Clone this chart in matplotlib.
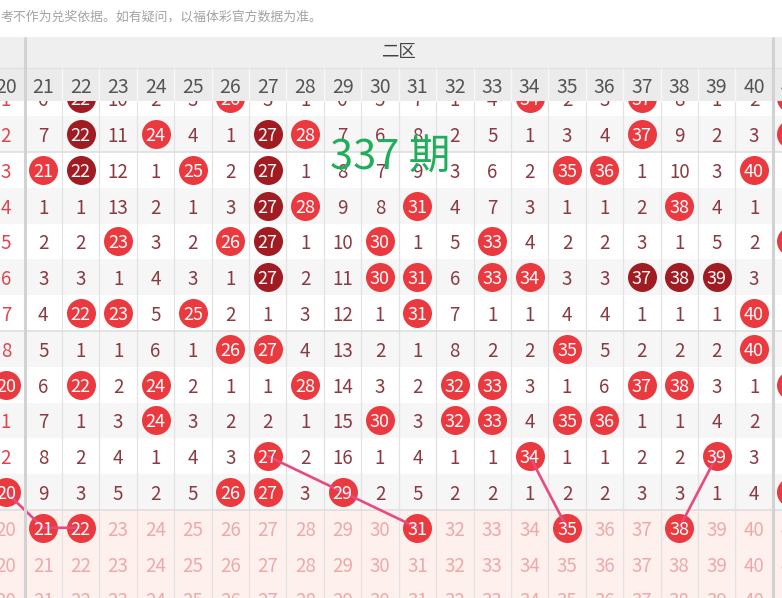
import matplotlib
matplotlib.use('Agg')
import matplotlib.pyplot as plt
from matplotlib.patches import Rectangle

plt.rcParams['font.family'] = ['Noto Sans CJK SC', 'DejaVu Sans']

# ---------------- data ----------------
numbers = list(range(20, 42))          # columns 20..41 (20 and 41 only partly visible)
zone_title = "二区"
notice = "考不作为兑奖依据。如有疑问，以福体彩官方数据为准。"
overlay = "337 期"

# one list per draw row, one token per column 20..41:
# int = omission count, 'B' = drawn (red ball), 'D' = drawn (dark ball), 'F' = faded placeholder
row00 = [1, 6, 'D', 10, 2, 3, 'B', 3, 1, 6, 5, 7, 1, 4, 'B', 2, 3, 'B', 8, 1, 2, 'B']
row01 = [2, 7, 'D', 11, 'B', 4, 1, 'D', 'B', 7, 6, 8, 2, 5, 1, 3, 4, 'B', 9, 2, 3, 'B']
row02 = [3, 'B', 'D', 12, 1, 'B', 2, 'D', 1, 8, 7, 9, 3, 6, 2, 'B', 'B', 1, 10, 3, 'B', 1]
row03 = [4, 1, 1, 13, 2, 1, 3, 'D', 'B', 9, 8, 'B', 4, 7, 3, 1, 1, 2, 'B', 4, 1, 2]
row04 = [5, 2, 2, 'B', 3, 2, 'B', 'D', 1, 10, 'B', 1, 5, 'B', 4, 2, 2, 3, 1, 5, 2, 'B']
row05 = [6, 3, 3, 1, 4, 3, 1, 'D', 2, 11, 'B', 'B', 6, 'B', 'B', 3, 3, 'D', 'D', 'D', 3, 1]
row06 = [7, 4, 'B', 'B', 5, 'B', 2, 1, 3, 12, 1, 'B', 7, 1, 1, 4, 4, 1, 1, 1, 'B', 2]
row07 = [8, 5, 1, 1, 6, 1, 'B', 'B', 4, 13, 2, 1, 8, 2, 2, 'B', 5, 2, 2, 2, 'B', 3]
row08 = ['B', 6, 'B', 2, 'B', 2, 1, 1, 'B', 14, 3, 2, 'B', 'B', 3, 1, 6, 'B', 'B', 3, 1, 'B']
row09 = [1, 7, 1, 3, 'B', 3, 2, 2, 1, 15, 'B', 3, 'B', 'B', 4, 'B', 'B', 1, 1, 4, 2, 1]
row10 = [2, 8, 2, 4, 1, 4, 3, 'B', 2, 16, 1, 4, 1, 1, 'B', 1, 1, 2, 2, 'B', 3, 2]
row11 = ['B', 9, 3, 5, 2, 5, 'B', 'B', 3, 'B', 2, 5, 2, 2, 1, 2, 2, 3, 3, 1, 4, 'B']
row12 = ['F', 'B', 'B', 'F', 'F', 'F', 'F', 'F', 'F', 'F', 'F', 'B', 'F', 'F', 'F', 'B', 'F', 'F', 'B', 'F', 'F', 'F']
row13 = ['F'] * 22
row14 = ['F'] * 22
rows = [row00, row01, row02, row03, row04, row05, row06, row07,
        row08, row09, row10, row11, row12, row13, row14]

# hand-drawn connecting lines: (number, row) pairs
link1 = [(20, 11), (21, 12), (22, 12)]
link2 = [(27, 10), (29, 11), (31, 12)]
link3 = [(34, 10), (35, 12)]
link4 = [(39, 10), (38, 12)]
links = [link1, link2, link3, link4]

# ---------------- layout ----------------
W, H = 782, 598
x0, dx = 43.3, 37.41      # pixel centre of column 21 and column pitch
y1, dy = 134.0, 35.8      # pixel centre of row 1 and row pitch


def px_x(p):
    return 21 + (p - x0) / dx


def px_y(p):
    return 1 + (p - y1) / dy


fig = plt.figure(figsize=(W / 100, H / 100), dpi=100)
ax = fig.add_axes([0, 0, 1, 1])
ax.set_xlim(px_x(0), px_x(W))
ax.set_ylim(px_y(H), px_y(0))
ax.axis('off')

xl, xr = ax.get_xlim()
ybot = ax.get_ylim()[0]
head_top, head_mid, head_bot = px_y(37), px_y(68), px_y(100.5)

C_GRAY_ROW = '#f6f6f6'
C_PINK = '#fdf0ed'
C_TXT = '#8a3a42'
C_TXT20 = '#e0454f'
C_FADE = '#eeaaab'
C_BALL = '#ea3a40'
C_DARK = '#a11c22'
C_LINK = '#e84a80'

n_fade_start = 12
# row backgrounds
for r in range(len(rows)):
    if r >= n_fade_start:
        col = C_PINK
    else:
        col = C_GRAY_ROW if r % 2 == 1 else 'white'
    ax.axhspan(r - 0.5, r + 0.5, color=col, lw=0, zorder=0)

# column separators
for n in numbers:
    ax.vlines(n + 0.5, head_bot, ybot, color='#e3e3e3', lw=0.9, zorder=1)
ax.vlines([20.5, 40.5], head_top, ybot, color='#d2d2d2', lw=2.2, zorder=7)
# group separators
ax.hlines([1.5, 6.5, 11.5], xl, xr, color='#dcdcdc', lw=1.1, zorder=1)

# balls, numbers
for r, row in enumerate(rows):
    for n, tok in zip(numbers, row):
        if tok in ('B', 'D'):
            ax.scatter([n], [r], s=(29 * 0.72) ** 2, color=C_BALL if tok == 'B' else C_DARK,
                       lw=0, zorder=3)
            ax.text(n, r, str(n), color='white', fontsize=13, ha='center', va='center_baseline',
                    zorder=4)
        elif tok == 'F':
            ax.text(n, r, str(n), color=C_FADE, fontsize=13.5, ha='center', va='center_baseline',
                    zorder=2)
        else:
            ax.text(n, r, str(tok), color=C_TXT20 if n == 20 else C_TXT, fontsize=13.5,
                    ha='center', va='center_baseline', zorder=2)

for link in links:
    xs = [p[0] for p in link]
    ys = [p[1] for p in link]
    ax.plot(xs, ys, color=C_LINK, lw=1.9, zorder=3.5, solid_capstyle='round')

# sticky header
ax.add_patch(Rectangle((xl, head_top), xr - xl, head_mid - head_top, color='#efefef', lw=0, zorder=5))
ax.add_patch(Rectangle((xl, head_mid), xr - xl, head_bot - head_mid, color='#ebebeb', lw=0, zorder=5))
ax.hlines(head_mid, xl, xr, color='#e2e2e2', lw=1, zorder=6)
for n in numbers:
    ax.vlines(n + 0.5, head_mid, head_bot, color='#f7f7f7', lw=1, zorder=6)
for n in numbers:
    ax.text(n, px_y(85), str(n), color='#555555', fontsize=14, ha='center',
            va='center_baseline', zorder=6)
ax.text(30.5, px_y(52.5), zone_title, color='#444444', fontsize=12.5, ha='center',
        va='center', zorder=6)

# notice line
ax.text(xl, px_y(17), notice, color='#a3a3a3', fontsize=9.3, ha='left', va='center', zorder=6)

# green overlay label
ax.text(px_x(390.5), px_y(158), overlay, color='#1faf5a', fontsize=30, ha='center',
        va='center', zorder=10)

fig.savefig('out.png', dpi=100)
